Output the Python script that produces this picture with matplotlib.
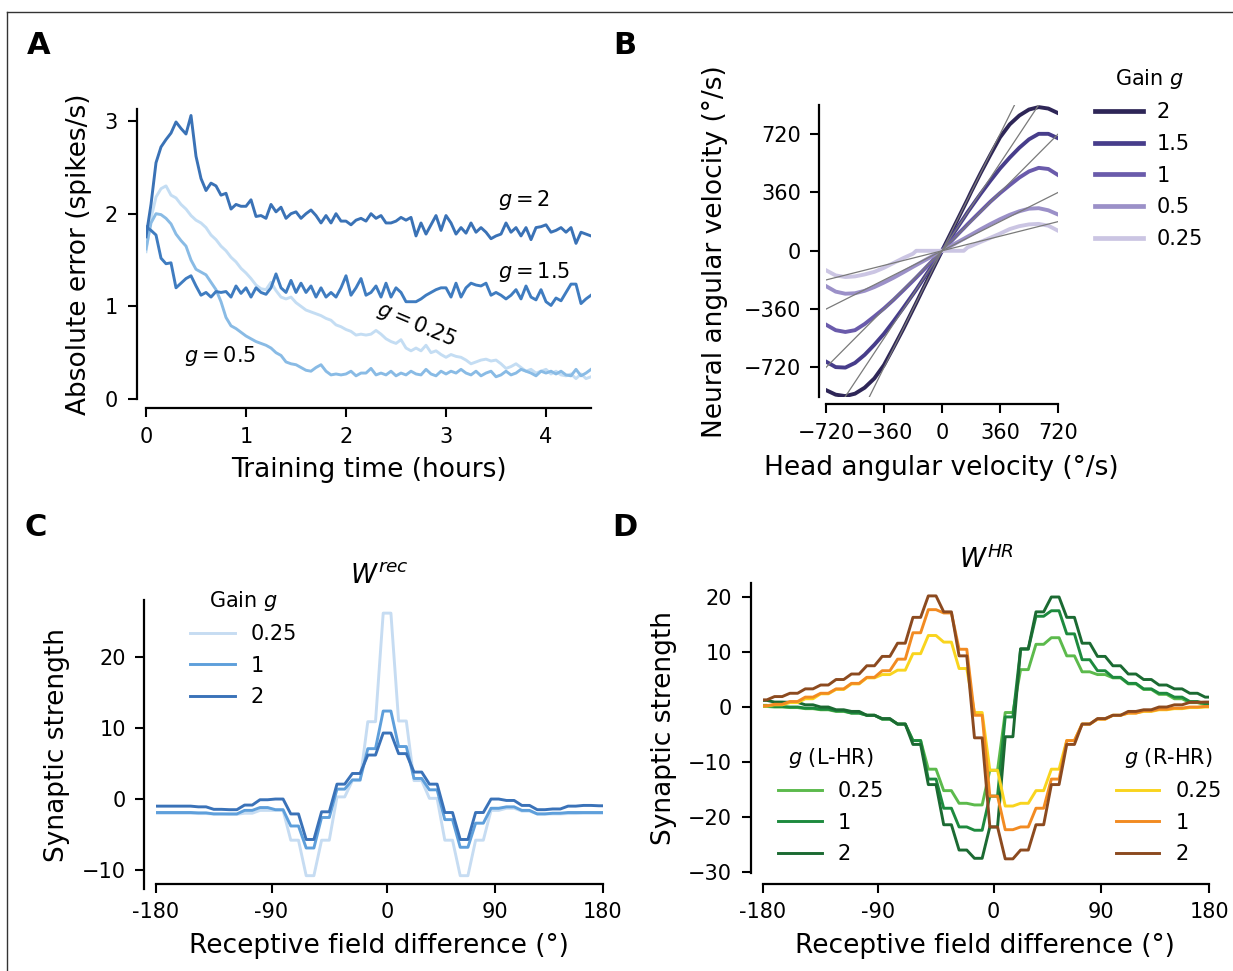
import numpy as np
import matplotlib
matplotlib.use('Agg')
import matplotlib.pyplot as plt
from matplotlib.lines import Line2D

# ---------------- Panel A data ----------------
train_hours = np.round(np.arange(90) * 0.05, 2)
err_g2 = [1.75, 2.10, 2.55, 2.72, 2.80, 2.87, 2.99, 2.92, 2.86, 3.06,
          2.62, 2.38, 2.25, 2.33, 2.30, 2.20, 2.22, 2.05, 2.10, 2.08,
          2.08, 2.15, 1.97, 1.98, 1.95, 2.10, 2.02, 2.07, 1.95, 2.00,
          2.02, 1.95, 2.00, 2.04, 1.98, 1.90, 1.98, 1.90, 2.00, 1.92,
          1.92, 1.88, 1.93, 1.95, 1.92, 2.00, 1.95, 1.98, 1.90, 1.90,
          1.92, 1.96, 1.93, 1.96, 1.76, 1.90, 1.78, 1.88, 1.98, 1.82,
          1.98, 1.90, 1.78, 1.85, 1.79, 1.90, 1.80, 1.85, 1.80, 1.73,
          1.76, 1.78, 1.90, 1.80, 1.85, 1.76, 1.85, 1.72, 1.85, 1.86,
          1.88, 1.80, 1.82, 1.85, 1.80, 1.85, 1.68, 1.80, 1.78, 1.76]
err_g15 = [1.86, 1.82, 1.77, 1.52, 1.46, 1.47, 1.20, 1.25, 1.30, 1.33,
           1.22, 1.12, 1.15, 1.10, 1.16, 1.15, 1.16, 1.10, 1.22, 1.14,
           1.20, 1.10, 1.20, 1.15, 1.13, 1.20, 1.35, 1.20, 1.15, 1.28,
           1.15, 1.25, 1.15, 1.22, 1.10, 1.20, 1.10, 1.15, 1.10, 1.20,
           1.33, 1.12, 1.20, 1.30, 1.12, 1.15, 1.22, 1.10, 1.25, 1.10,
           1.20, 1.15, 1.05, 1.05, 1.05, 1.08, 1.12, 1.15, 1.18, 1.20,
           1.20, 1.10, 1.25, 1.10, 1.20, 1.25, 1.23, 1.22, 1.25, 1.12,
           1.15, 1.12, 1.08, 1.12, 1.18, 1.08, 1.22, 1.10, 1.07, 1.18,
           1.05, 1.01, 1.09, 1.06, 1.15, 1.24, 1.24, 1.03, 1.08, 1.12]
err_g05 = [1.62, 1.90, 2.00, 1.99, 1.95, 1.89, 1.78, 1.71, 1.65, 1.50,
           1.40, 1.37, 1.34, 1.26, 1.18, 1.05, 0.88, 0.79, 0.76, 0.72,
           0.68, 0.65, 0.62, 0.60, 0.58, 0.55, 0.50, 0.47, 0.40, 0.38,
           0.37, 0.34, 0.31, 0.30, 0.34, 0.37, 0.30, 0.26, 0.27, 0.26,
           0.27, 0.30, 0.25, 0.28, 0.28, 0.33, 0.26, 0.28, 0.26, 0.30,
           0.25, 0.28, 0.26, 0.30, 0.27, 0.26, 0.32, 0.27, 0.25, 0.30,
           0.27, 0.30, 0.28, 0.32, 0.28, 0.26, 0.30, 0.25, 0.28, 0.30,
           0.24, 0.26, 0.30, 0.26, 0.28, 0.32, 0.30, 0.28, 0.25, 0.30,
           0.28, 0.30, 0.27, 0.30, 0.26, 0.25, 0.32, 0.25, 0.28, 0.32]
err_g025 = [1.59, 1.95, 2.18, 2.27, 2.30, 2.20, 2.17, 2.10, 2.05, 1.98,
            1.93, 1.90, 1.85, 1.77, 1.72, 1.65, 1.60, 1.53, 1.48, 1.41,
            1.36, 1.30, 1.23, 1.19, 1.18, 1.26, 1.17, 1.10, 1.08, 1.10,
            1.04, 1.00, 0.96, 0.94, 0.92, 0.90, 0.87, 0.85, 0.80, 0.78,
            0.75, 0.73, 0.69, 0.70, 0.69, 0.70, 0.74, 0.70, 0.65, 0.62,
            0.60, 0.64, 0.55, 0.52, 0.55, 0.52, 0.58, 0.50, 0.52, 0.48,
            0.45, 0.48, 0.46, 0.45, 0.42, 0.38, 0.40, 0.42, 0.43, 0.41,
            0.42, 0.38, 0.33, 0.35, 0.38, 0.34, 0.30, 0.32, 0.28, 0.30,
            0.32, 0.27, 0.30, 0.26, 0.25, 0.27, 0.22, 0.27, 0.22, 0.24]

# ---------------- Panel B data ----------------
head_vel = [-720, -660, -600, -540, -480, -420, -360, -300, -240, -180, -160, -120, -60, 0,
            60, 120, 135, 160, 180, 240, 300, 360, 420, 480, 540, 600, 660, 720]
neural_g2 = [-860, -888, -897, -882, -845, -788, -705, -595, -482, -362, -322, -240, -120, 0,
             120, 240, 270, 320, 362, 480, 592, 700, 780, 835, 872, 887, 878, 850]
neural_g15 = [-684, -718, -721, -692, -642, -580, -512, -434, -352, -268, -240, -180, -90, 0,
              90, 180, 202, 240, 268, 352, 432, 508, 575, 636, 688, 722, 722, 695]
neural_g1 = [-456, -490, -501, -490, -452, -405, -356, -302, -244, -185, -165, -124, -62, 0,
             62, 124, 139, 165, 185, 244, 303, 356, 405, 452, 490, 512, 505, 468]
neural_g05 = [-218, -252, -265, -262, -247, -224, -196, -166, -133, -99, -88, -66, -33, 0,
              33, 66, 74, 88, 99, 133, 165, 195, 222, 244, 260, 263, 250, 224]
neural_g025 = [-120, -152, -162, -158, -146, -130, -105, -75, -45, -18, 0, 0, 0, 0,
               0, 0, 0, 22, 29, 55, 80, 106, 134, 152, 163, 166, 155, 124]
gains_B = [2, 1.5, 1, 0.5, 0.25]
gain_labels_B = ['2', '1.5', '1', '0.5', '0.25']

# ---------------- Panel C data (30 receptive-field bins) ----------------
wrec_g025 = [-2.0, -2.0, -2.0, -2.05, -2.1, -2.15, -2.0, -1.6, -1.6, -5.8,
             -10.8, -5.8, 0.3, 2.6, 10.9, 26.2, 11.0, 2.6, 0.1, -5.8,
             -10.8, -5.8, -1.6, -1.3, -1.7, -2.1, -2.1, -2.05, -2.0, -2.0]
wrec_g1 = [-1.9, -1.9, -1.9, -1.95, -2.1, -2.1, -1.6, -1.2, -1.5, -3.8,
           -6.9, -2.6, 1.4, 2.7, 7.1, 12.4, 7.4, 2.9, 1.3, -2.9,
           -6.8, -3.4, -1.3, -1.1, -1.6, -2.1, -2.0, -1.9, -1.9, -1.9]
wrec_g2 = [-1.0, -1.0, -1.0, -1.1, -1.45, -1.5, -0.85, -0.1, 0.0, -2.1,
           -5.7, -1.8, 2.1, 3.6, 6.2, 9.3, 6.4, 3.8, 2.1, -1.9,
           -5.7, -1.9, 0.0, -0.2, -0.9, -1.5, -1.4, -1.0, -0.9, -0.95]

# ---------------- Panel D data ----------------
whr_R_025 = [0.2, 0.4, 0.8, 1.5, 2.4, 3.2, 4.2, 5.3, 5.9, 6.7,
             9.7, 13.0, 11.8, 7.0, -1.0, -11.5, -18.0, -17.5, -15.2, -11.3,
             -6.1, -3.1, -2.2, -1.5, -1.1, -0.8, -0.5, -0.3, -0.1, 0.0]
whr_R_1 = [0.2, 0.5, 1.0, 1.8, 2.5, 3.3, 4.3, 5.4, 6.6, 8.7,
           13.5, 17.7, 17.1, 10.5, -1.5, -16.2, -22.3, -21.8, -18.4, -13.1,
           -6.1, -3.1, -2.2, -1.5, -1.1, -0.7, -0.4, -0.2, 0.0, 0.1]
whr_R_2 = [1.3, 1.9, 2.5, 3.3, 4.0, 5.0, 6.0, 7.5, 9.2, 11.6,
           16.3, 20.2, 17.3, 9.3, -5.6, -21.8, -27.6, -26.0, -21.4, -14.1,
           -6.8, -3.1, -2.1, -1.5, -0.8, -0.5, 0.0, 0.4, 0.85, 0.9]
whr_L_025 = [0.1, 0.0, -0.1, -0.3, -0.5, -0.8, -1.1, -1.5, -2.2, -3.1,
             -6.1, -11.3, -15.2, -17.5, -17.8, -11.5, -1.0, 6.8, 11.4, 12.6,
             9.3, 6.4, 5.9, 5.3, 4.2, 3.2, 2.3, 1.5, 0.8, 0.4]
whr_L_1 = [0.3, 0.1, 0.0, -0.2, -0.4, -0.7, -1.1, -1.5, -2.2, -3.1,
           -6.1, -13.1, -18.4, -21.8, -22.4, -16.2, -1.8, 10.5, 16.5, 17.5,
           13.3, 8.6, 6.6, 5.4, 4.3, 3.3, 2.5, 1.8, 1.0, 0.6]
whr_L_2 = [1.2, 0.9, 0.85, 0.4, 0.0, -0.5, -0.8, -1.5, -2.1, -3.1,
           -6.8, -14.1, -21.4, -26.0, -27.5, -21.8, -5.4, 10.6, 17.3, 20.0,
           16.3, 11.6, 9.2, 7.5, 6.0, 5.0, 4.0, 3.3, 2.5, 1.8]

rf_tick_pos = [0, 15, 30, 44, 58]
rf_tick_labels = ['-180', '-90', '0', '90', '180']

# ---------------- helpers ----------------
W, H = 1233, 971
fig = plt.figure(figsize=(W / 100, H / 100), dpi=100)
plt.rcParams['font.family'] = ['DejaVu Sans']

TICK_FS = 15
LABEL_FS = 19
LEG_FS = 15
LW = 2.1


def px_axes(x0, x1, y0, y1):
    return fig.add_axes([x0 / W, 1 - y1 / H, (x1 - x0) / W, (y1 - y0) / H])


def style(ax, off_left, off_bottom):
    for s in ['top', 'right']:
        ax.spines[s].set_visible(False)
    ax.spines['left'].set_position(('outward', off_left))
    ax.spines['bottom'].set_position(('outward', off_bottom))
    for s in ['left', 'bottom']:
        ax.spines[s].set_linewidth(1.6)
    ax.tick_params(length=6.3, width=1.5, labelsize=TICK_FS, pad=7, direction='out')


def step_xy(vals):
    vals = np.asarray(vals, dtype=float)
    k = np.arange(len(vals))
    x = np.column_stack([2 * k - 0.5, 2 * k + 0.5]).ravel()
    x = np.clip(x, 0, 2 * (len(vals) - 1))
    y = np.repeat(vals, 2)
    return x, y


def set_labels(ax, xl, yl, xlx, xly, ylx, yly):
    ax.set_xlabel(xl, fontsize=LABEL_FS, va='center')
    ax.set_ylabel(yl, fontsize=LABEL_FS, va='center')
    ax.xaxis.set_label_coords(xlx, xly)
    ax.yaxis.set_label_coords(ylx, yly)


LEG_KW = dict(fontsize=LEG_FS, title_fontsize=LEG_FS, frameon=False, loc='upper left',
              borderaxespad=0)

# ---------------- Panel A ----------------
axA = px_axes(146, 591, 109, 399)
axA.plot(train_hours, err_g025, color='#c4ddf3', lw=LW)
axA.plot(train_hours, err_g05, color='#89bbe5', lw=LW)
axA.plot(train_hours, err_g15, color='#3f7cc0', lw=LW)
axA.plot(train_hours, err_g2, color='#3a72b6', lw=LW)
axA.set_xlim(0, 4.45)
axA.set_ylim(0, 3.13)
axA.set_xticks([0, 1, 2, 3, 4])
axA.set_yticks([0, 1, 2, 3])
style(axA, 6.8, 6.5)
set_labels(axA, 'Training time (hours)', 'Absolute error (spikes/s)', 0.5, -0.245, -0.150, 0.5)
axA.text(3.78, 2.15, r'$g = 2$', fontsize=15, ha='center', va='center')
axA.text(3.88, 1.37, r'$g = 1.5$', fontsize=15, ha='center', va='center')
axA.text(2.70, 0.80, r'$g = 0.25$', fontsize=15, ha='center', va='center',
         rotation=-23, rotation_mode='anchor')
axA.text(0.74, 0.46, r'$g = 0.5$', fontsize=15, ha='center', va='center')

# ---------------- Panel B ----------------
axB = px_axes(826, 1058, 105, 397.4)
colors_B = ['#2e2657', '#473d8b', '#6a5bab', '#9b90c8', '#cbc5e3']
series_B = [neural_g2, neural_g15, neural_g1, neural_g05, neural_g025]
for vals, col, lab in zip(series_B, colors_B, gain_labels_B):
    axB.plot(head_vel, vals, color=col, lw=2.8, label=lab)
xl = np.array([-720, 720])
for g in gains_B:
    axB.plot(xl, g * xl, color='#7a7a7a', lw=0.9, zorder=3)
axB.set_xlim(-720, 720)
axB.set_ylim(-905, 900)
axB.set_xticks([-720, -360, 0, 360, 720])
axB.set_yticks([-720, -360, 0, 360, 720])
style(axB, 4.7, 4.8)
set_labels(axB, 'Head angular velocity (°/s)', 'Neural angular velocity (°/s)', 0.496, -0.24, -0.478, 0.497)
hB = [Line2D([0], [0], color=c, lw=3.4) for c in colors_B]
axB.legend(hB, gain_labels_B, title=r'Gain $g$', bbox_to_anchor=(1.124, 1.16),
           handlelength=2.3, handletextpad=0.67, labelspacing=0.56, **LEG_KW)

# ---------------- Panel C ----------------
axC = px_axes(156, 602.7, 600, 888.8)
colors_C = ['#c6dcf2', '#5e9fdb', '#3a72b8']
for vals, col, lab in zip([wrec_g025, wrec_g1, wrec_g2], colors_C, ['0.25', '1', '2']):
    x, y = step_xy(vals)
    axC.plot(x, y, color=col, lw=LW, label=lab)
axC.set_xlim(0, 58)
axC.set_ylim(-12.65, 28.05)
axC.set_xticks(rf_tick_pos)
axC.set_xticklabels(rf_tick_labels)
axC.set_yticks([-10, 0, 10, 20])
style(axC, 8.4, -3.5)
set_labels(axC, 'Receptive field difference (°)', 'Synaptic strength', 0.499, -0.198, -0.222, 0.498)
axC.set_title(r'$W^{rec}$', fontsize=19, y=1.053, va='center')
axC.legend(title=r'Gain $g$', bbox_to_anchor=(0.058, 1.068),
           handlelength=2.16, handletextpad=0.72, labelspacing=0.55, **LEG_KW)

# ---------------- Panel D ----------------
axD = px_axes(763, 1209, 582.7, 872.6)
colors_L = ['#5cba4c', '#1d8a3e', '#1b6a32']
colors_R = ['#f9d41e', '#f28b22', '#8c4a1f']
labs = ['0.25', '1', '2']
linesL = []
for vals, col in zip([whr_L_025, whr_L_1, whr_L_2], colors_L):
    x, y = step_xy(vals)
    linesL += axD.plot(x, y, color=col, lw=LW)
linesR = []
for vals, col in zip([whr_R_025, whr_R_1, whr_R_2], colors_R):
    x, y = step_xy(vals)
    linesR += axD.plot(x, y, color=col, lw=LW)
axD.set_xlim(0, 58)
axD.set_ylim(-30.1, 22.6)
axD.set_xticks(rf_tick_pos)
axD.set_xticklabels(rf_tick_labels)
axD.set_yticks([-30, -20, -10, 0, 10, 20])
style(axD, 8.9, 8.2)
set_labels(axD, 'Receptive field difference (°)', 'Synaptic strength', 0.498, -0.253, -0.223, 0.499)
axD.set_title(r'$W^{HR}$', fontsize=19, y=1.051, va='center')
legL = axD.legend(linesL, labs, title=r'$g$ (L-HR)', bbox_to_anchor=(0.015, 0.466),
                  handlelength=2.1, handletextpad=0.77, labelspacing=0.55, **LEG_KW)
axD.add_artist(legL)
axD.legend(linesR, labs, title=r'$g$ (R-HR)', bbox_to_anchor=(0.772, 0.466),
           handlelength=2.1, handletextpad=0.77, labelspacing=0.55, **LEG_KW)

# ---------------- panel letters & border ----------------
for letter, (lx, ly) in zip('ABCD', [(38.5, 45), (625, 45), (36, 527), (625, 527)]):
    fig.text(lx / W, 1 - ly / H, letter, fontsize=22, fontweight='bold', ha='center', va='center')

fig.add_artist(Line2D([7 / W, 7 / W], [0, 1 - 12 / H], transform=fig.transFigure, color='#333333', lw=1.0))
fig.add_artist(Line2D([7 / W, 1], [1 - 12 / H, 1 - 12 / H], transform=fig.transFigure, color='#333333', lw=1.0))

fig.savefig('out.png', dpi=100)
